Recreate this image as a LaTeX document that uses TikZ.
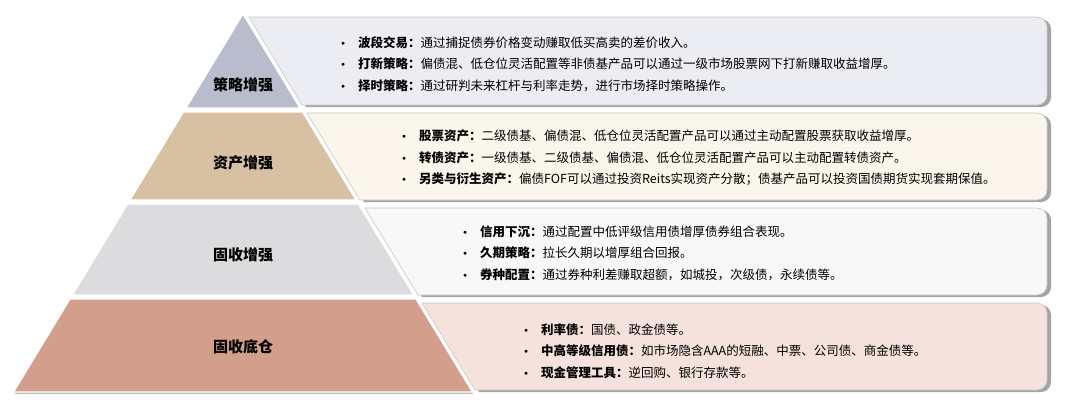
\documentclass[tikz,border=0pt]{standalone}
\usepackage{fontspec}
\setmainfont{Noto Sans CJK SC}
\usetikzlibrary{shadows}
\definecolor{tierA}{RGB}{185,188,204}
\definecolor{tierB}{RGB}{216,193,163}
\definecolor{tierC}{RGB}{220,220,222}
\definecolor{tierD}{RGB}{212,158,141}
\definecolor{paneA}{RGB}{236,237,243}
\definecolor{paneB}{RGB}{250,246,236}
\definecolor{paneC}{RGB}{248,248,248}
\definecolor{paneD}{RGB}{246,226,220}
\let\kw\textbf % Key term.
\newcommand{\itm}[1]{\makebox[17pt][l]{\raisebox{2pt}{\fontsize{7}{7}\selectfont$\bullet$}}#1}

\begin{document}
\begin{tikzpicture}[x=1pt,y=-1pt,
  panel/.style={draw=black!22,line width=.6pt,
    drop shadow={shadow xshift=4pt,shadow yshift=-2pt,fill=black!65,opacity=.55}},
  band/.style={draw=white,line width=1.2pt},
  tag/.style={font=\fontsize{15}{15}\selectfont\bfseries},
  items/.style={anchor=west,align=left,inner sep=0pt,font=\fontsize{12.5}{21.5}\selectfont}]
\useasboundingbox (0,0) rectangle (1080,408);

\path[panel,fill=paneA] (249,17) [rounded corners=10pt] -- (1047,17) -- (1047,105) [sharp corners] -- (302,105) -- cycle;
\path[panel,fill=paneB] (307,113) [rounded corners=10pt] -- (1047,113) -- (1047,200) [sharp corners] -- (360,200) -- cycle;
\path[panel,fill=paneC] (365,208) [rounded corners=10pt] -- (1047,208) -- (1047,295) [sharp corners] -- (418,295) -- cycle;
\path[panel,fill=paneD] (422,303) [rounded corners=10pt] -- (1047,303) -- (1047,390) [sharp corners] -- (475,390) -- cycle;

\path[band,fill=tierA] (243,14) -- (300,108) -- (186,108) -- cycle;
\path[band,fill=tierB] (183.5,112) -- (302.5,112) -- (356,200) -- (130,200) -- cycle;
\path[band,fill=tierC] (127.7,204) -- (358.3,204) -- (413.6,295) -- (72.4,295) -- cycle;
\path[band,fill=tierD,drop shadow={shadow xshift=1pt,shadow yshift=-2pt,fill=black!50,opacity=.5}]
  (70,299) -- (416,299) -- (472.4,392) -- (13.6,392) -- cycle;

\node[tag] (strat) at (243,85) {策略增强};
\node[tag] (asset) at (243,163) {资产增强};
\node[tag] (fixup) at (243,255) {固收增强};
\node[tag] (fixbase) at (243,347) {固收底仓};

\node[items] (stratText) at (341,64) {%
  \itm{\kw{波段交易：}通过捕捉债券价格变动赚取低买高卖的差价收入。}\\
  \itm{\kw{打新策略：}偏债混、低仓位灵活配置等非债基产品可以通过一级市场股票网下打新赚取收益增厚。}\\
  \itm{\kw{择时策略：}通过研判未来杠杆与利率走势，进行市场择时策略操作。}};
\node[items] (assetText) at (402,158) {%
  \itm{\kw{股票资产：}二级债基、偏债混、低仓位灵活配置产品可以通过主动配置股票获取收益增厚。}\\
  \itm{\kw{转债资产：}一级债基、二级债基、偏债混、低仓位灵活配置产品可以主动配置转债资产。}\\
  \itm{\kw{另类与衍生资产：}偏债FOF可以通过投资Reits实现资产分散；债基产品可以投资国债期货实现套期保值。}};
\node[items] (fixupText) at (463,253) {%
  \itm{\kw{信用下沉：}通过配置中低评级信用债增厚债券组合表现。}\\
  \itm{\kw{久期策略：}拉长久期以增厚组合回报。}\\
  \itm{\kw{券种配置：}通过券种利差赚取超额，如城投，次级债，永续债等。}};
\node[items] (fixbaseText) at (524,351) {%
  \itm{\kw{利率债：}国债、政金债等。}\\
  \itm{\kw{中高等级信用债：}如市场隐含AAA的短融、中票、公司债、商金债等。}\\
  \itm{\kw{现金管理工具：}逆回购、银行存款等。}};
\end{tikzpicture}
\end{document}
